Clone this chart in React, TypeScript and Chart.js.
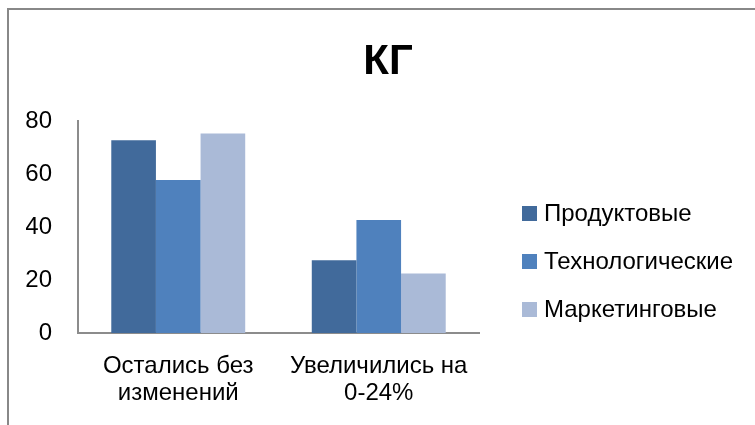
import React, { useEffect, useRef } from "react";
import { Chart, registerables } from "chart.js";

Chart.register(...registerables);

const categories: string[][] = [
  ["Остались без", "изменений"],
  ["Увеличились на", "0-24%"],
];
const seriesNames = ["Продуктовые", "Технологические", "Маркетинговые"];
const productValues = [72.7, 27.5];
const techValues = [57.7, 42.6];
const marketingValues = [75.3, 22.5];
const seriesColors = ["#416A9B", "#4F81BD", "#AABAD7"];
const yMin = 0;
const yMax = 80;
const yStep = 20;
const titleText = "КГ";

const FONT = '"Liberation Sans", Arial, sans-serif';
const TITLE_FONT = '"Liberation Sans Narrow", "Liberation Sans", Arial, sans-serif';

export default function App() {
  const ref = useRef<HTMLCanvasElement | null>(null);

  useEffect(() => {
    if (!ref.current) return;
    const chart = new Chart(ref.current, {
      type: "bar",
      data: {
        labels: categories,
        datasets: [
          { label: seriesNames[0], data: productValues, backgroundColor: seriesColors[0] },
          { label: seriesNames[1], data: techValues, backgroundColor: seriesColors[1] },
          { label: seriesNames[2], data: marketingValues, backgroundColor: seriesColors[2] },
        ],
      },
      options: {
        responsive: false,
        animation: false,
        layout: { padding: { left: 17, right: 276, top: 111, bottom: 0 } },
        datasets: { bar: { categoryPercentage: 0.668, barPercentage: 1, borderWidth: 0 } },
        scales: {
          x: {
            grid: { display: false, drawTicks: false },
            border: { display: true, color: "#8c8c8c", width: 2 },
            ticks: {
              color: "#000",
              font: { family: FONT, size: 24, lineHeight: 1.11 },
              padding: 20,
              maxRotation: 0,
              autoSkip: false,
            },
            afterFit: (s: any) => {
              s.height = 92;
            },
          },
          y: {
            min: yMin,
            max: yMax,
            grid: { display: false, drawTicks: false },
            border: { display: true, color: "#8c8c8c", width: 2 },
            ticks: {
              stepSize: yStep,
              color: "#000",
              font: { family: FONT, size: 24 },
              padding: 26,
            },
            afterFit: (s: any) => {
              s.width = 52;
            },
          },
        },
        plugins: {
          title: { display: false },
          legend: { display: false },
          tooltip: { enabled: false },
        },
      } as any,
    });
    return () => chart.destroy();
  }, []);

  return (
    <div
      style={{
        position: "fixed",
        left: 0,
        top: 0,
        width: 755,
        height: 425,
        overflow: "hidden",
        background: "#fff",
      }}
    >
      <div
        style={{
          position: "absolute",
          left: 7,
          top: 8,
          width: 800,
          height: 500,
          borderLeft: "2px solid #888888",
          borderTop: "2px solid #888888",
        }}
      >
        <canvas ref={ref} width={746} height={415} style={{ display: "block" }} />
      </div>
      <div
        style={{
          position: "absolute",
          left: 0,
          top: 36,
          width: 776,
          textAlign: "center",
          fontFamily: TITLE_FONT,
          fontWeight: "bold",
          fontSize: 42,
          lineHeight: "48px",
          color: "#000",
        }}
      >
        {titleText}
      </div>
      <div style={{ position: "absolute", left: 522, top: 189 }}>
        {seriesNames.map((name, i) => (
          <div
            key={name}
            style={{ display: "flex", alignItems: "center", height: 48, whiteSpace: "nowrap" }}
          >
            <span
              style={{
                display: "inline-block",
                width: 15,
                height: 15,
                background: seriesColors[i],
                marginRight: 7,
              }}
            />
            <span style={{ fontFamily: FONT, fontSize: 24, lineHeight: 1, color: "#000" }}>
              {name}
            </span>
          </div>
        ))}
      </div>
    </div>
  );
}
